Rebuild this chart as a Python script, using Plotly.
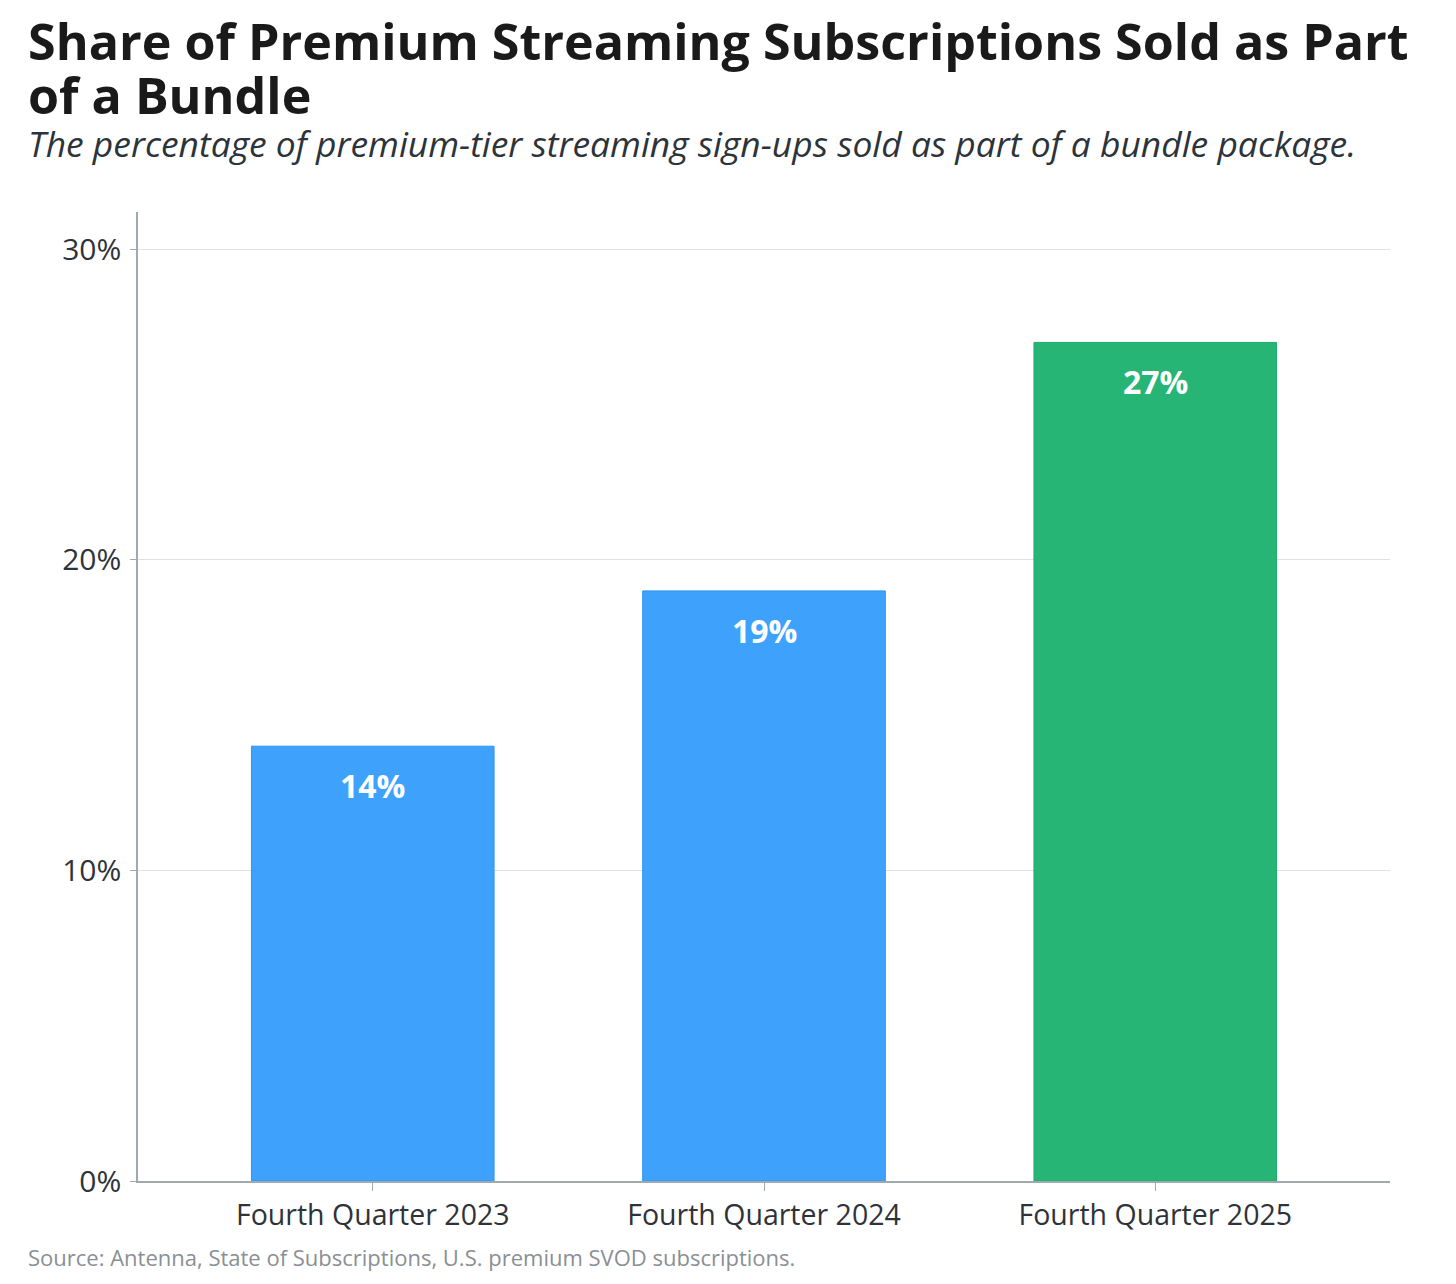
import plotly.graph_objects as go

categories = ["Fourth Quarter 2023", "Fourth Quarter 2024", "Fourth Quarter 2025"]
shares = [14, 19, 27]
bar_labels = ["14%", "19%", "27%"]
bar_colors = ["#3EA2FD", "#3EA2FD", "#26B574"]
edge_colors = ["#2B95F5", "#2B95F5", "#1FAE6C"]
y_ticks = [0, 10, 20, 30]
y_tick_labels = ["0%", "10%", "20%", "30%"]

# page body has an 8px margin; figure sized to fit the window
OFF = 8
W, H = 1440, 1268
L, T = 130, 204
pw, ph = 1252, 969
R, B = W - L - pw, H - T - ph

def px(x):
    return (x - OFF - L) / pw

def py(y):
    return (OFF + T + ph - y) / ph

fig = go.Figure()
fig.add_trace(go.Bar(
    x=categories, y=shares,
    marker=dict(color=bar_colors, line=dict(color=edge_colors, width=1)),
    width=0.62,
    hoverinfo="skip",
))

for c, v, t in zip(categories, shares, bar_labels):
    fig.add_annotation(x=c, y=v, text=t, showarrow=False, xref="x", yref="y",
                       yanchor="top", yshift=-16,
                       font=dict(family="Open Sans", size=32, color="white", weight="bold"))

fig.add_annotation(xref="paper", yref="paper", x=px(26), y=py(41), xanchor="left", yanchor="middle",
                   text="<b>Share of Premium Streaming Subscriptions Sold as Part</b>", showarrow=False,
                   font=dict(family="Open Sans", size=50.2, color="#1a1a1a"))
fig.add_annotation(xref="paper", yref="paper", x=px(26), y=py(95), xanchor="left", yanchor="middle",
                   text="<b>of a Bundle</b>", showarrow=False,
                   font=dict(family="Open Sans", size=50.2, color="#1a1a1a"))
fig.add_annotation(xref="paper", yref="paper", x=px(26), y=py(143), xanchor="left", yanchor="middle",
                   text="<i>The percentage of premium-tier streaming sign-ups sold as part of a bundle package.</i>",
                   showarrow=False,
                   font=dict(family="Open Sans", size=35.4, color="#2d333a"))
fig.add_annotation(xref="paper", yref="paper", x=px(26), y=py(1257), xanchor="left", yanchor="middle",
                   text="Source: Antenna, State of Subscriptions, U.S. premium SVOD subscriptions.",
                   showarrow=False,
                   font=dict(family="Open Sans", size=22, color="#8a8f95"))

fig.update_layout(
    width=W, height=H,
    margin=dict(l=L, r=R, t=T, b=B, autoexpand=False),
    paper_bgcolor="white", plot_bgcolor="white",
    showlegend=False,
    font=dict(family="Open Sans", color="#2f3338"),
    xaxis=dict(
        range=[-0.6, 2.6],
        showgrid=False,
        showline=True, linecolor="#a0a8b0", linewidth=1.5,
        ticks="outside", ticklen=8, tickcolor="#a0a8b0",
        tickfont=dict(size=28.5, color="#2f3338"),
        zeroline=False,
    ),
    yaxis=dict(
        range=[0, 31.2],
        tickvals=y_ticks, ticktext=y_tick_labels,
        showgrid=True, gridcolor="#dde0e4", gridwidth=1,
        showline=True, linecolor="#a0a8b0", linewidth=1.5,
        ticks="outside", ticklen=6, tickcolor="#a0a8b0",
        ticklabelstandoff=3,
        tickfont=dict(size=30, color="#2f3338"),
        zeroline=False,
    ),
)

fig.write_html("out.html")
